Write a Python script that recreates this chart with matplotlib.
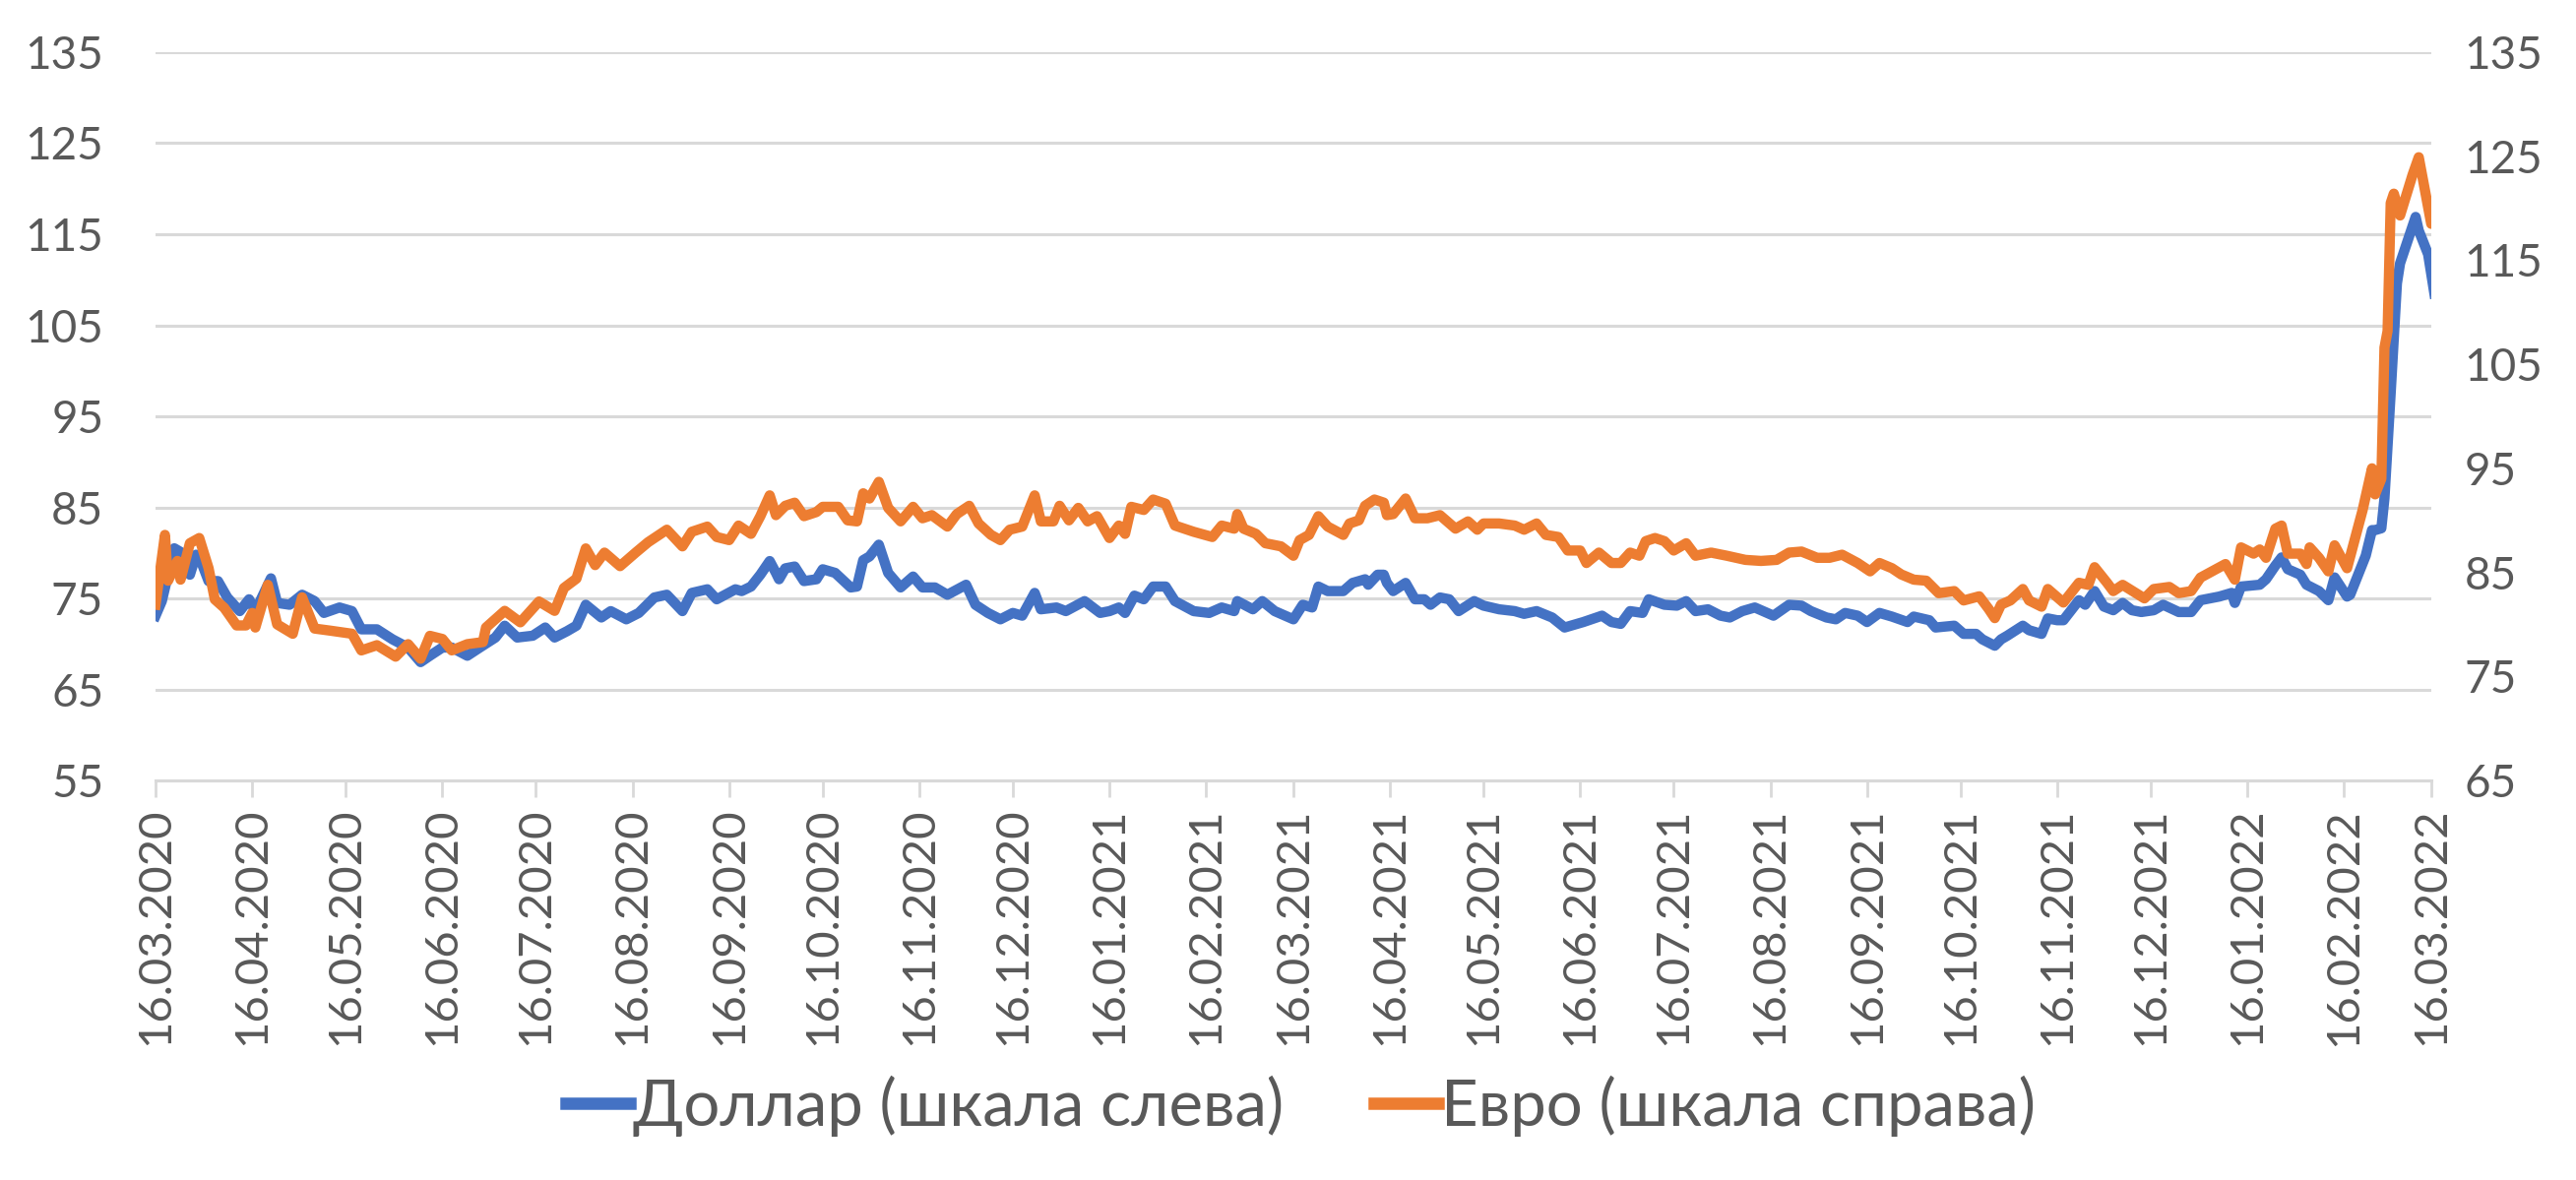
import matplotlib
matplotlib.use("Agg")
import matplotlib.pyplot as plt
import matplotlib.dates as mdates
import numpy as np
import pandas as pd


font_family = ["Lato", "DejaVu Sans"]
tick_fontsize = 33
legend_fontsize = 47
text_color = "#595959"
grid_color = "#d9d9d9"

usd_color = "#4472C4"
eur_color = "#ED7D31"

start_date = "2020-03-16"
n_months = 25

# day offsets from 16.03.2020 and values
usd_days = [
	0, 2, 6, 8, 10, 11, 13, 15, 17, 20, 23, 27, 30, 32, 37, 39, 43, 47, 51, 54,
	59, 63, 66, 71, 76, 81, 85, 88, 92, 95, 100, 104, 109, 112, 116, 121, 125, 128, 132, 135,
	138, 143, 146, 151, 155, 160, 164, 169, 172, 177, 180, 186, 188, 191, 194, 197, 199, 200, 202, 205,
	208, 212, 214, 218, 223, 225, 227, 229, 232, 235, 239, 243, 246, 250, 254, 260, 263, 267, 271, 275,
	278, 282, 284, 289, 292, 298, 303, 306, 309, 311, 314, 317, 320, 324, 327, 333, 338, 342, 346, 347,
	352, 355, 359, 365, 368, 371, 373, 376, 381, 384, 388, 389, 392, 394, 395, 397, 401, 404, 407, 409,
	412, 415, 418, 423, 426, 431, 436, 439, 443, 448, 452, 458, 464, 467, 470, 473, 477, 479, 484, 488,
	491, 494, 498, 502, 505, 509, 513, 519, 524, 528, 531, 536, 539, 542, 546, 549, 553, 557, 562, 564,
	569, 571, 577, 580, 584, 586, 590, 592, 594, 599, 601, 605, 607, 610, 612, 617, 619, 622, 625, 628,
	631, 634, 637, 641, 644, 649, 653, 656, 662, 666, 667, 669, 675, 677, 680, 682, 684, 688, 690, 694,
	697, 699, 703, 704, 709, 711, 712, 714, 715, 717, 719, 720, 725, 726, 729, 731,
]
usd_values = [
	73.1, 74.7, 80.5, 80.1, 78.3, 77.6, 79.8, 78.7, 76.9, 76.9, 75.1, 73.6, 74.9, 73.6, 77.2, 74.5, 74.3, 75.4, 74.7, 73.4,
	74.0, 73.6, 71.6, 71.6, 70.5, 69.6, 68.0, 68.7, 69.6, 69.6, 68.7, 69.6, 70.7, 72.0, 70.7, 70.9, 71.8, 70.7, 71.4, 72.0,
	74.3, 72.9, 73.6, 72.7, 73.4, 75.1, 75.4, 73.6, 75.6, 76.0, 74.9, 76.0, 75.8, 76.3, 77.6, 79.1, 77.8, 77.1, 78.3, 78.5,
	76.9, 77.1, 78.2, 77.8, 76.2, 76.3, 79.2, 79.6, 80.9, 77.8, 76.2, 77.4, 76.2, 76.2, 75.4, 76.5, 74.3, 73.4, 72.7, 73.4,
	73.1, 75.6, 73.8, 74.0, 73.6, 74.7, 73.4, 73.6, 74.0, 73.4, 75.3, 74.9, 76.3, 76.3, 74.7, 73.6, 73.4, 74.0, 73.6, 74.7,
	73.8, 74.7, 73.6, 72.7, 74.3, 74.0, 76.3, 75.8, 75.8, 76.7, 77.1, 76.5, 77.6, 77.6, 76.7, 75.8, 76.7, 74.9, 74.9, 74.3,
	75.1, 74.9, 73.6, 74.7, 74.2, 73.8, 73.6, 73.3, 73.6, 72.9, 71.8, 72.4, 73.1, 72.4, 72.2, 73.6, 73.4, 74.9, 74.3, 74.2,
	74.7, 73.6, 73.8, 73.1, 72.9, 73.6, 74.0, 73.1, 74.3, 74.2, 73.6, 72.9, 72.7, 73.4, 73.1, 72.4, 73.4, 73.0, 72.4, 73.0,
	72.6, 71.8, 72.0, 71.1, 71.1, 70.5, 69.8, 70.5, 70.9, 72.0, 71.5, 71.1, 72.8, 72.6, 72.6, 74.8, 74.3, 75.8, 74.1, 73.7,
	74.5, 73.7, 73.5, 73.7, 74.3, 73.5, 73.5, 74.8, 75.2, 75.6, 74.5, 76.3, 76.5, 77.1, 78.6, 79.5, 78.2, 77.6, 76.5, 75.8,
	74.8, 77.3, 75.2, 75.4, 79.7, 82.5, 82.5, 82.7, 86.0, 97.6, 109.6, 111.8, 116.9, 115.4, 112.8, 108.5,
]

eur_days = [
	0, 3, 4, 7, 8, 11, 14, 17, 19, 22, 26, 29, 31, 32, 36, 39, 44, 47, 51, 56,
	63, 66, 71, 77, 81, 85, 88, 92, 95, 100, 105, 106, 112, 117, 123, 128, 131, 135, 138, 141,
	144, 149, 154, 158, 164, 169, 172, 177, 180, 184, 187, 191, 194, 197, 199, 202, 205, 208, 212, 214,
	219, 222, 225, 227, 229, 232, 235, 239, 243, 246, 249, 254, 257, 261, 264, 268, 271, 274, 278, 282,
	284, 288, 290, 293, 296, 299, 302, 306, 309, 311, 313, 317, 320, 324, 327, 333, 339, 342, 346, 347,
	349, 353, 356, 361, 365, 367, 370, 373, 376, 381, 383, 386, 388, 391, 394, 395, 397, 401, 404, 408,
	412, 417, 421, 424, 426, 431, 436, 439, 443, 446, 450, 453, 457, 459, 463, 467, 470, 473, 476, 478,
	481, 484, 487, 491, 494, 499, 504, 510, 515, 520, 524, 528, 533, 537, 541, 546, 550, 553, 557, 560,
	564, 568, 572, 577, 580, 585, 588, 590, 592, 595, 599, 601, 605, 607, 612, 617, 620, 622, 626, 628,
	631, 638, 641, 646, 649, 653, 656, 664, 667, 669, 673, 675, 677, 680, 682, 684, 688, 690, 691, 694,
	697, 699, 703, 708, 711, 712, 714, 715, 716, 717, 718, 720, 724, 726, 730, 731,
]
eur_values = [
	81.9, 88.6, 84.2, 86.1, 84.3, 87.8, 88.3, 85.4, 82.4, 81.6, 79.9, 79.9, 81.1, 79.7, 83.8, 80.0, 79.1, 82.6, 79.6, 79.4,
	79.1, 77.5, 78.0, 76.9, 78.1, 76.7, 78.9, 78.6, 77.5, 78.1, 78.3, 79.7, 81.3, 80.2, 82.2, 81.3, 83.5, 84.4, 87.3, 85.7,
	86.9, 85.6, 86.9, 87.9, 89.1, 87.5, 88.9, 89.4, 88.4, 88.1, 89.5, 88.7, 90.4, 92.4, 90.5, 91.4, 91.7, 90.4, 90.8, 91.3,
	91.3, 90.0, 89.9, 92.6, 92.1, 93.7, 91.2, 89.9, 91.3, 90.2, 90.5, 89.4, 90.6, 91.4, 89.7, 88.6, 88.1, 89.1, 89.4, 92.4,
	89.9, 89.9, 91.4, 90.0, 91.2, 89.9, 90.4, 88.3, 89.5, 88.7, 91.3, 91.0, 92.0, 91.6, 89.5, 88.9, 88.4, 89.5, 89.2, 90.6,
	89.2, 88.7, 87.8, 87.5, 86.6, 88.1, 88.6, 90.4, 89.4, 88.6, 89.7, 90.0, 91.4, 92.0, 91.7, 90.5, 90.6, 92.1, 90.2, 90.2,
	90.5, 89.2, 89.9, 89.1, 89.7, 89.7, 89.5, 89.1, 89.7, 88.6, 88.4, 87.1, 87.1, 85.9, 86.9, 85.9, 85.9, 86.9, 86.6, 88.0,
	88.3, 88.0, 87.1, 87.8, 86.6, 86.9, 86.6, 86.2, 86.1, 86.2, 86.9, 87.0, 86.4, 86.4, 86.7, 85.9, 85.1, 85.9, 85.4, 84.8,
	84.3, 84.2, 83.0, 83.2, 82.3, 82.7, 81.5, 80.6, 81.9, 82.3, 83.4, 82.3, 81.7, 83.4, 82.1, 84.0, 83.8, 85.5, 84.0, 83.2,
	83.8, 82.5, 83.4, 83.6, 83.0, 83.2, 84.5, 85.8, 84.3, 87.4, 86.8, 87.2, 86.4, 89.2, 89.5, 86.8, 86.8, 85.8, 87.4, 86.4,
	85.1, 87.6, 85.4, 91.0, 95.0, 92.5, 94.0, 106.6, 108.2, 120.5, 121.4, 119.3, 123.2, 124.9, 118.5, 118.6,
]

usd_label = "Доллар (шкала слева)"
eur_label = "Евро (шкала справа)"

left_ticks = [55, 65, 75, 85, 95, 105, 115, 125, 135]
right_ticks = [65, 75, 85, 95, 105, 115, 125, 135]


def days_to_dates(days):
	return np.datetime64(start_date) + np.array(days, dtype="timedelta64[D]")


def main():
	plt.rcParams["font.family"] = font_family

	fig = plt.figure(figsize=(26.17, 11.99), dpi=100)
	ax = fig.add_axes([0.0604, 0.3386, 0.8834, 0.6172])
	ax2 = ax.twinx()

	ax.plot(days_to_dates(usd_days), usd_values, color=usd_color, linewidth=7.5,
		solid_joinstyle="round", label=usd_label)
	ax2.plot(days_to_dates(eur_days), eur_values, color=eur_color, linewidth=7.5,
		solid_joinstyle="round", label=eur_label)

	tick_dates = pd.date_range(start_date, periods=n_months, freq=pd.DateOffset(months=1))
	ax.set_xlim(tick_dates[0], tick_dates[-1])
	ax.set_xticks(tick_dates)
	ax.xaxis.set_major_formatter(mdates.DateFormatter("%d.%m.%Y"))
	ax.tick_params(axis="x", rotation=90, labelsize=tick_fontsize + 1, colors=text_color,
		length=12, width=2, pad=8)
	for lbl in ax.get_xticklabels():
		lbl.set_color(text_color)
	ax.tick_params(axis="x", color=grid_color)

	ax.set_ylim(55, 135)
	ax.set_yticks(left_ticks)
	ax.tick_params(axis="y", labelsize=tick_fontsize, labelcolor=text_color, length=0, pad=38)
	ax.grid(axis="y", color=grid_color, linewidth=2.2)
	ax.set_axisbelow(True)

	ax2.set_ylim(65, 135)
	ax2.set_yticks(right_ticks)
	ax2.tick_params(axis="y", labelsize=tick_fontsize, labelcolor=text_color, length=0, pad=24)

	for a in (ax, ax2):
		for side in ("top", "left", "right", "bottom"):
			a.spines[side].set_visible(False)
	ax.spines["bottom"].set_visible(True)
	ax.spines["bottom"].set_color(grid_color)
	ax.spines["bottom"].set_linewidth(2.2)

	h1, l1 = ax.get_legend_handles_labels()
	h2, l2 = ax2.get_legend_handles_labels()
	leg = fig.legend(
		h1 + h2, l1 + l2,
		loc="lower center", bbox_to_anchor=(0.505, -0.012),
		frameon=False, ncol=2,
		fontsize=legend_fontsize, labelcolor=text_color,
		handlelength=1.0, handletextpad=0.05, columnspacing=1.4,
	)
	for line in leg.get_lines():
		line.set_linewidth(9)

	fig.savefig("out.png", dpi=100)
	plt.close(fig)


if __name__ == "__main__":
	main()
